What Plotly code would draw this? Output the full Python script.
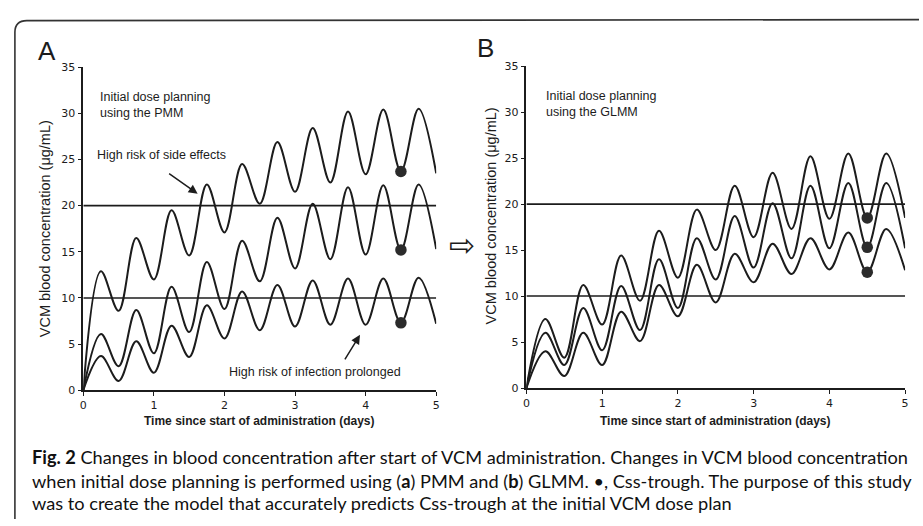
import plotly.graph_objects as go

W, H = 923, 526

# ---------------- data ----------------
t = [0, 0.25, 0.5, 0.75, 1.0, 1.25, 1.5, 1.75, 2.0, 2.25, 2.5,
     2.75, 3.0, 3.25, 3.5, 3.75, 4.0, 4.25, 4.5, 4.75, 5.0]

pmm_high = [0, 12.9, 8.6, 16.5, 12.0, 19.5, 14.6, 22.3, 17.1, 24.5, 20.2,
            26.9, 21.5, 28.4, 22.5, 30.2, 23.4, 30.4, 23.7, 30.5, 23.5]
pmm_mid = [0, 6.1, 2.6, 8.7, 4.0, 11.2, 6.3, 13.9, 8.8, 16.2, 11.8,
           18.7, 13.2, 20.2, 14.2, 22.0, 14.7, 22.2, 15.2, 22.3, 15.3]
pmm_low = [0, 3.7, 1.0, 5.3, 1.9, 7.0, 3.6, 9.2, 5.6, 10.7, 6.5,
           11.4, 6.9, 11.9, 7.1, 12.1, 7.1, 12.1, 7.3, 12.2, 7.2]

glmm_high = [0, 7.5, 3.3, 11.2, 6.9, 14.4, 9.5, 17.1, 12.0, 19.4, 15.0,
             22.0, 16.4, 23.4, 17.3, 25.2, 18.4, 25.5, 18.5, 25.5, 18.5]
glmm_mid = [0, 6.0, 2.5, 8.7, 4.1, 11.1, 6.3, 14.0, 8.7, 16.3, 11.8,
            18.7, 13.1, 20.1, 14.1, 22.0, 15.2, 22.3, 15.3, 22.3, 15.2]
glmm_low = [0, 4.0, 1.3, 6.0, 2.5, 8.3, 5.1, 11.2, 7.8, 13.4, 9.3,
            14.6, 11.5, 15.7, 12.4, 16.3, 12.9, 16.9, 12.6, 17.3, 12.8]

trough_t = [4.5, 4.5, 4.5]
pmm_trough = [23.7, 15.2, 7.3]
glmm_trough = [18.5, 15.3, 12.6]

ref_t = [0, 5]
ref_levels = [10, 20]

x_ticks = [0, 1, 2, 3, 4, 5]
y_ticks = [0, 5, 10, 15, 20, 25, 30, 35]

x_title = "Time since start of administration (days)"
y_title = "VCM blood concentration (μg/mL)"


def px(x):
    return x / W


def py(y):
    return 1 - y / H


INK = "#1c1c1c"
fig = go.Figure()

panels = [
    ("x", "y", [pmm_high, pmm_mid, pmm_low], pmm_trough),
    ("x2", "y2", [glmm_high, glmm_mid, glmm_low], glmm_trough),
]
for xa, ya, curves, troughs in panels:
    for lvl in ref_levels:
        fig.add_trace(go.Scatter(x=ref_t, y=[lvl, lvl], mode="lines",
                                 line=dict(color=INK, width=1.6),
                                 xaxis=xa, yaxis=ya, hoverinfo="skip",
                                 showlegend=False))
    for c in curves:
        fig.add_trace(go.Scatter(x=t, y=c, mode="lines",
                                 line=dict(color=INK, width=2, shape="spline",
                                           smoothing=1.0),
                                 xaxis=xa, yaxis=ya, showlegend=False))
    fig.add_trace(go.Scatter(x=trough_t, y=troughs, mode="markers",
                             marker=dict(color="#2b2b2b", size=11.5),
                             xaxis=xa, yaxis=ya, showlegend=False))

tickfont = dict(family="DejaVu Sans", size=11, color=INK)
axis_common = dict(showgrid=False, zeroline=False, showline=True,
                   linecolor=INK, linewidth=1.6, ticks="outside", ticklen=4,
                   tickwidth=1.4, tickcolor=INK, tickfont=tickfont)
ytf = dict(family="Liberation Sans", size=14.5, color=INK)

fig.update_layout(
    width=W, height=H,
    margin=dict(l=0, r=0, t=0, b=0),
    paper_bgcolor="white", plot_bgcolor="white",
    xaxis=dict(domain=[px(80), px(436)], range=[0, 5], tickvals=x_ticks,
               anchor="y", **axis_common),
    yaxis=dict(domain=[py(394), py(62.7)], range=[0, 35], tickvals=y_ticks,
               anchor="x", title=dict(text=y_title, font=ytf, standoff=7),
               **axis_common),
    xaxis2=dict(domain=[px(527), px(909)], range=[0, 5], tickvals=x_ticks,
                anchor="y2", **axis_common),
    yaxis2=dict(domain=[py(391.7), py(61.7)], range=[0, 35], tickvals=y_ticks,
                anchor="x2", **axis_common),
)

ann = []


def note(cx, cy, text, font, xanchor="center", **kw):
    ann.append(dict(x=px(cx), y=py(cy), xref="paper", yref="paper", text=text,
                    showarrow=False, xanchor=xanchor, yanchor="middle",
                    font=font, **kw))


lab = dict(family="Liberation Sans", size=12.5, color=INK)
# panel letters
note(43, 46, "A", dict(family="Liberation Sans", size=26, color=INK))
note(486, 43, "B", dict(family="Liberation Sans", size=26, color=INK))
# panel B y title (rotated)
note(491, 215, y_title, ytf, textangle=-90)
for cx, cy in [(258, 426), (718, 426)]:
    note(cx, cy, "<b>" + x_title + "</b>",
         dict(family="Liberation Sans Narrow, Liberation Sans", size=12, color=INK))
# in-plot labels
note(95, 102, "Initial dose planning<br>using the PMM", lab, xanchor="left", align="left")
note(545, 100, "Initial dose planning<br>using the GLMM", lab, xanchor="left", align="left")
note(92, 153, "High risk of side effects", lab, xanchor="left")
note(225, 375, "High risk of infection prolonged", lab, xanchor="left")
# arrows
ann.append(dict(x=1.62, y=21.3, xref="x", yref="y", ax=-30, ay=-21, text="",
                showarrow=True, arrowhead=2, arrowsize=1.2, arrowwidth=1.5,
                arrowcolor=INK))
ann.append(dict(x=3.92, y=6.0, xref="x", yref="y", ax=-16, ay=26, text="",
                showarrow=True, arrowhead=2, arrowsize=1.2, arrowwidth=1.5,
                arrowcolor=INK))
# arrow between panels
note(462, 245, "⇨", dict(family="DejaVu Sans", size=31, color=INK))
# caption
cap = dict(family="Lato", size=18.2, color="#111111")
cap_lines = [
    (462, "<b>Fig. 2</b> Changes in blood concentration after start of VCM administration. Changes in VCM blood concentration"),
    (487, "when initial dose planning is performed using (<b>a</b>) PMM and (<b>b</b>) GLMM. •, Css-trough. The purpose of this study"),
    (510, "was to create the model that accurately predicts Css-trough at the initial VCM dose plan"),
]
for cy, txt in cap_lines:
    note(26, cy, txt, cap, xanchor="left")
fig.update_layout(annotations=ann)

# frame (top and left border with rounded corner)
fig.add_shape(type="path", xref="paper", yref="paper",
              path=f"M {px(11)},{py(526)} L {px(11)},{py(27)} Q {px(11)},{py(15)} {px(23)},{py(15)} L {px(923)},{py(14)}",
              line=dict(color="#333333", width=1.6))

fig.write_html("out.html")
